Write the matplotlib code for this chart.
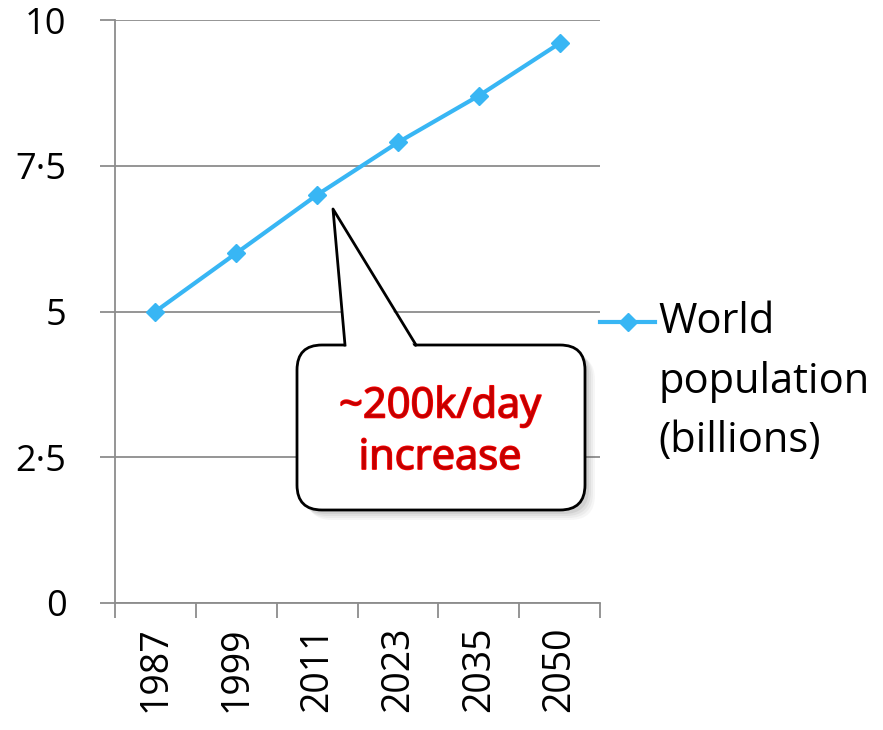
import numpy as np
import matplotlib
matplotlib.use("Agg")
import matplotlib.pyplot as plt
from matplotlib.patches import FancyBboxPatch, Polygon
from matplotlib.lines import Line2D
from matplotlib.transforms import Affine2D
import matplotlib.patheffects as pe

# data
years = ["1987", "1999", "2011", "2023", "2035", "2050"]
population = [5.0, 6.0, 7.0, 7.9, 8.7, 9.6]
yticks = [0, 2.5, 5, 7.5, 10]
ytick_labels = ["0", "2·5", "5", "7·5", "10"]
series_name = "World\npopulation\n(billions)"

plt.rcParams["font.family"] = ["Open Sans", "DejaVu Sans"]
W, H = 883, 730
grey = "#8c8c8c"
blue = "#38b6f4"

fig = plt.figure(figsize=(W / 100, H / 100), dpi=100)
ax = fig.add_axes([115 / W, 127 / H, 485 / W, 583 / H])

x = np.arange(len(years))
ax.plot(x, population, color=blue, lw=3, marker="D", ms=9, zorder=3)

ax.set_xlim(-0.5, len(years) - 0.5)
ax.set_ylim(0, 10)

# category boundaries get the tick marks, centres get the labels
ax.set_xticks(np.arange(-0.5, len(years)))
ax.set_xticklabels([])
ax.set_xticks(x, minor=True)
ax.set_xticklabels(years, minor=True, rotation=90, fontsize=27)
ax.tick_params(axis="x", which="major", length=11, width=1.3, color=grey)
ax.tick_params(axis="x", which="minor", length=0, pad=17)

ax.set_yticks(yticks)
ax.set_yticklabels(ytick_labels, fontsize=26)
ax.tick_params(axis="y", length=11, width=1.3, color=grey, pad=24)
ax.yaxis.grid(True, color=grey, lw=1.3)
ax.set_axisbelow(True)

for s in ["top", "right"]:
    ax.spines[s].set_visible(False)
for s in ["left", "bottom"]:
    ax.spines[s].set_color(grey)
    ax.spines[s].set_linewidth(1.3)

# pixel space, y measured from the top
px = Affine2D().scale(1, -1).translate(0, H)

# legend entry (handle sits beside the first line of the label)
fig.add_artist(Line2D([600, 655], [322, 322], color=blue, lw=3, transform=px))
fig.add_artist(Line2D([627.5], [322], color=blue, marker="D", ms=9, transform=px))
fig.text(658 / W, 1 - 301 / H, series_name, ha="left", va="top",
         fontsize=30, linespacing=1.55)

# callout bubble
for i, a in enumerate([0.05, 0.06, 0.08, 0.1]):
    off = 10 - i * 2
    fig.add_artist(FancyBboxPatch((297 + off, 345 + off), 288, 165,
                                  boxstyle="round,pad=0,rounding_size=25",
                                  fc="#555555", ec="none", alpha=a, transform=px))
fig.add_artist(FancyBboxPatch((297, 345), 288, 165,
                              boxstyle="round,pad=0,rounding_size=25",
                              fc="white", ec="black", lw=2, transform=px))
fig.add_artist(Polygon([(346, 348), (333, 209), (415, 348)], closed=True,
                       fc="white", ec="none", transform=px))
fig.add_artist(Line2D([345, 333, 416], [345, 209, 345], color="black",
                      lw=2, transform=px))
fig.text(440 / W, 1 - 432 / H, "~200k/day\nincrease", ha="center", va="center",
         fontsize=30, color="#c00000", linespacing=1.3,
         path_effects=[pe.withStroke(linewidth=1.2, foreground="red")])

fig.savefig("out.png", dpi=100)
